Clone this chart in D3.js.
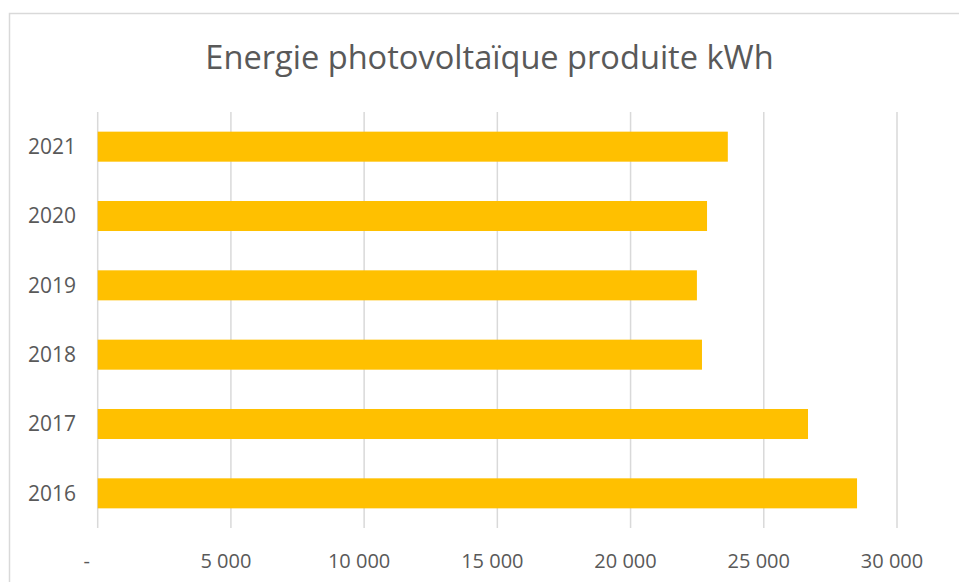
<!DOCTYPE html>
<html>
<head>
<meta charset="utf-8">
<script src="https://cdn.jsdelivr.net/npm/d3@7"></script>
<style>
  html, body { margin: 0; padding: 0; background: #fff; }
  svg { display: block; }
</style>
</head>
<body>
<div id="chart"></div>
<script>
// Data
const years = ["2021", "2020", "2019", "2018", "2017", "2016"];
const energy = [23650, 22870, 22490, 22680, 26660, 28500];
const tickValues = [0, 5000, 10000, 15000, 20000, 25000, 30000];
const tickLabels = ["-", "5 000", "10 000", "15 000", "20 000", "25 000", "30 000"];

const W = 959, H = 582;
const margin = { top: 112, right: 62, bottom: 54, left: 97.7 };
const width = 897 - margin.left;
const height = H - margin.top - margin.bottom;

const textColor = "#595959";
const gridColor = "#d9d9d9";
const barColor = "#ffc000";
const font = "'Open Sans', sans-serif";

const svg = d3.select("#chart").append("svg")
  .attr("width", W)
  .attr("height", H);

// chart frame (cut off on right/bottom like the screenshot)
svg.append("rect")
  .attr("x", 9.5).attr("y", 13.5)
  .attr("width", W + 20).attr("height", H + 20)
  .attr("fill", "none")
  .attr("stroke", gridColor)
  .attr("stroke-width", 1.5);

// title
svg.append("text")
  .attr("x", 489.5)
  .attr("y", 69)
  .attr("text-anchor", "middle")
  .attr("font-family", font)
  .attr("font-size", 32.6)
  .attr("fill", textColor)
  .text("Energie photovoltaïque produite kWh");

const g = svg.append("g")
  .attr("transform", `translate(${margin.left},${margin.top})`);

const x = d3.scaleLinear().domain([0, 30000]).range([0, width]);
const y = d3.scaleBand().domain(years).range([0, height]).paddingInner(0.567).paddingOuter(0.2835);

// gridlines
g.selectAll(".grid")
  .data(tickValues)
  .enter().append("line")
  .attr("class", "grid")
  .attr("x1", d => x(d)).attr("x2", d => x(d))
  .attr("y1", 0).attr("y2", height)
  .attr("stroke", gridColor)
  .attr("stroke-width", 1.5);

// bars
g.selectAll(".bar")
  .data(years)
  .enter().append("rect")
  .attr("class", "bar")
  .attr("x", 0)
  .attr("y", d => y(d))
  .attr("width", (d, i) => x(energy[i]))
  .attr("height", y.bandwidth())
  .attr("fill", barColor);

// y labels
g.selectAll(".ylab")
  .data(years)
  .enter().append("text")
  .attr("class", "ylab")
  .attr("x", 76 - margin.left)
  .attr("y", d => y(d) + y.bandwidth() / 2)
  .attr("dy", "0.35em")
  .attr("text-anchor", "end")
  .attr("font-family", font)
  .attr("font-size", 21)
  .attr("fill", textColor)
  .text(d => d);

// x labels (accounting format, shifted a little left)
g.selectAll(".xlab")
  .data(tickValues)
  .enter().append("text")
  .attr("class", "xlab")
  .attr("x", (d, i) => x(d) - (i === 0 ? 11 : 5))
  .attr("y", height + 40)
  .attr("text-anchor", "middle")
  .attr("font-family", font)
  .attr("font-size", 20)
  .attr("fill", textColor)
  .text((d, i) => tickLabels[i]);
</script>
</body>
</html>
